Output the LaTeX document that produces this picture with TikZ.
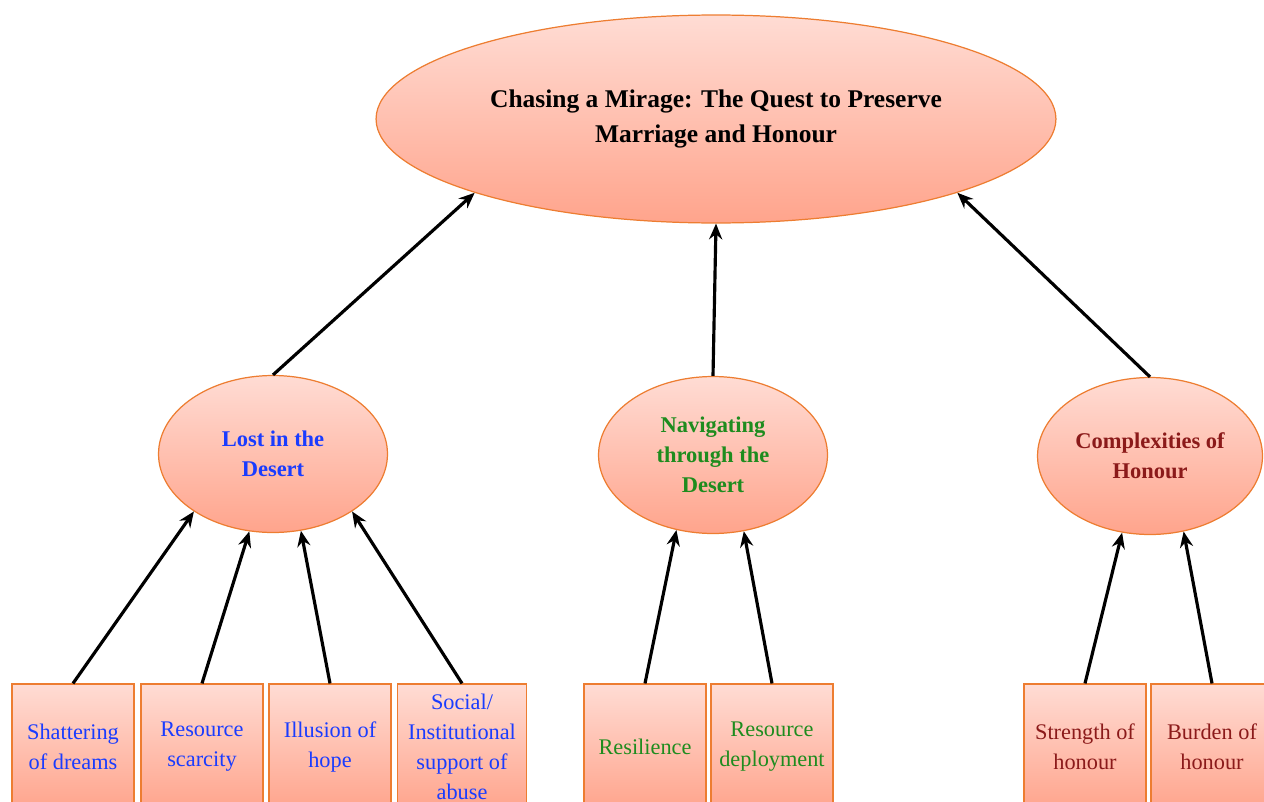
\documentclass[tikz,border=0pt]{standalone}
\usepackage{fontspec}
\setmainfont{Liberation Serif}
\usetikzlibrary{shapes.geometric,arrows.meta}

\definecolor{mirageline}{HTML}{ED7D31}
\definecolor{miragetop}{HTML}{FFDCD4}
\definecolor{miragebottom}{HTML}{FFA48C}
\definecolor{lostblue}{HTML}{1A3CFF}
\definecolor{navgreen}{HTML}{1E8C1E}
\definecolor{honourred}{HTML}{8B1A1A}

\begin{document}
\begin{tikzpicture}[>={Stealth[length=9pt,width=7.5pt,inset=3pt]},->,x=0.02cm,y=-0.02cm,line width=1.8pt]
    \tikzstyle{theme}=[ellipse,draw=mirageline,line width=0.7pt,top color=miragetop,bottom color=miragebottom,inner sep=0pt,align=center,font=\fontsize{12.8}{17}\selectfont\bfseries,minimum width=4.58cm,minimum height=3.14cm]
    \tikzstyle{code}=[rectangle,draw=mirageline,line width=0.7pt,top color=miragetop,bottom color=miragebottom,inner sep=0pt,align=center,font=\fontsize{12.7}{17}\selectfont,minimum width=2.44cm,minimum height=2.52cm]

    \useasboundingbox (0,0) rectangle (1264,801);
    \clip (0,0) rectangle (1264,801);

    % Main theme
    \node[theme,minimum width=13.6cm,minimum height=4.16cm,font=\fontsize{14.5}{20}\selectfont\bfseries] (mirage) at (716,119) {Chasing a Mirage: The Quest to Preserve\\Marriage and Honour};

    % Themes
    \node[theme,text=lostblue] (lost) at (273,454) {Lost in the\\Desert};
    \node[theme,text=navgreen] (nav) at (713,455) {Navigating\\through the\\Desert};
    \node[theme,text=honourred,minimum width=4.5cm] (honour) at (1150,456) {Complexities of\\Honour};

    % Codes
    \node[code,text=lostblue] (dreams) at (73,747) {Shattering\\of dreams};
    \node[code,text=lostblue] (scarcity) at (202,747) {Resource\\scarcity};
    \node[code,text=lostblue] (hope) at (330,747) {Illusion of\\hope};
    \node[code,text=lostblue,minimum width=2.58cm] (abuse) at (462,747) {Social/\\Institutional\\support of\\abuse};
    \node[code,text=navgreen] (resilience) at (645,747) {Resilience};
    \node[code,text=navgreen] (deploy) at (772,747) {Resource\\deployment};
    \node[code,text=honourred] (strength) at (1085,747) {Strength of\\honour};
    \node[code,text=honourred] (burden) at (1212,747) {Burden of\\honour};

    % Edges
    \path
        (lost.north) edge (mirage.197)
        (nav.north) edge (mirage.270)
        (honour.north) edge (mirage.343)
        (dreams.north) edge (lost.216)
        (scarcity.north) edge (lost.253)
        (hope.north) edge (lost.290)
        (abuse.north) edge (lost.324)
        (resilience.north) edge (nav.244)
        (deploy.north) edge (nav.292)
        (strength.north) edge (honour.250)
        (burden.north) edge (honour.294)
        ;
\end{tikzpicture}
\end{document}
